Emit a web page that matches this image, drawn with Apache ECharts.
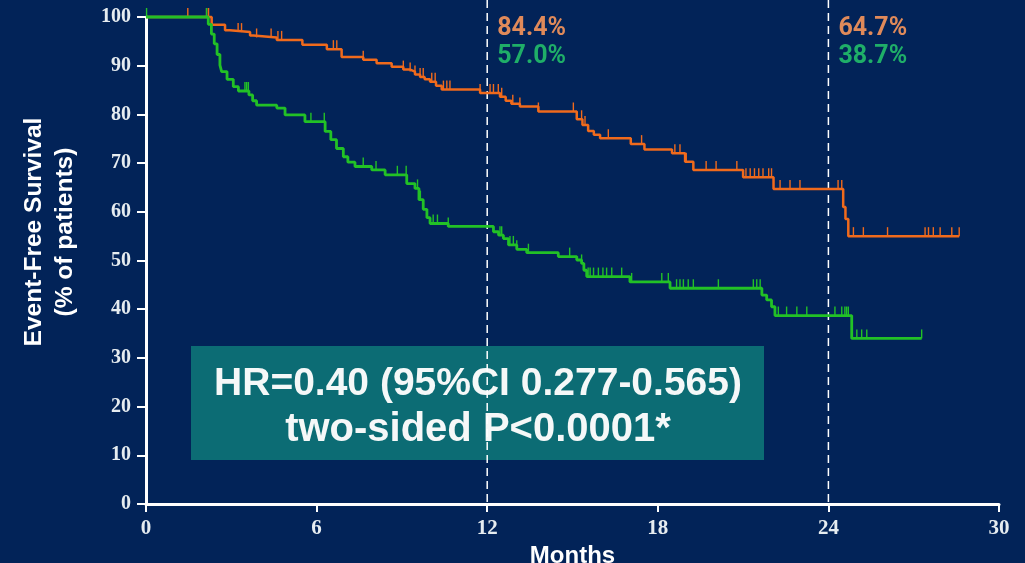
<!DOCTYPE html>
<html>
<head>
<meta charset="utf-8">
<script src="https://cdn.jsdelivr.net/npm/echarts@6/dist/echarts.min.js"></script>
<style>
html,body{margin:0;padding:0;background:#022358;}
#c{width:1025px;height:563px;}
</style>
</head>
<body>
<div id="c"></div>
<script>
// ---- data ----
const xTicks = [0, 6, 12, 18, 24, 30];
const yTicks = [0, 10, 20, 30, 40, 50, 60, 70, 80, 90, 100];

const orangeTimes = [0, 2.31, 2.78, 2.95, 3.66, 3.78, 4.6, 5.5, 6.36, 6.88, 7.64, 8.11, 8.64, 9.05, 9.29, 9.46, 9.64, 9.8, 9.99, 10.2, 10.4, 11.75, 12.45, 12.65, 12.85, 13.15, 13.8, 15.15, 15.35, 15.55, 15.75, 15.97, 17.05, 17.53, 18.5, 18.96, 19.25, 21.0, 22.07, 24.52, 24.6, 24.7, 28.6];
const orangeVals  = [100, 98.4, 97.3, 96.9, 96.2, 95.8, 95.3, 94.3, 93.4, 91.8, 91.2, 90.5, 89.8, 89.2, 88.8, 88.2, 87.7, 87.2, 86.7, 85.9, 85.1, 84.4, 83.6, 82.8, 82.2, 81.6, 80.6, 79.0, 77.8, 76.6, 75.8, 75.1, 73.9, 72.8, 72.0, 70.3, 68.6, 67.1, 64.7, 61.0, 58.5, 55.0, 55.0];
const orangeCensor = [1.47, 2.13, 2.2, 3.24, 3.36, 3.89, 4.4, 4.64, 4.77, 6.59, 6.71, 7.64, 9.05, 9.29, 9.46, 9.64, 9.75, 10.05, 10.17, 10.46, 10.58, 10.69, 11.75, 12.1, 12.22, 12.39, 12.51, 12.9, 13.15, 13.8, 15.03, 15.32, 15.44, 16.26, 17.43, 18.6, 18.78, 19.0, 19.7, 20.05, 20.78, 21.1, 21.25, 21.4, 21.55, 21.7, 21.9, 22.0, 22.3, 22.65, 23.0, 24.34, 24.47, 24.88, 25.23, 26.08, 27.4, 27.52, 27.69, 27.93, 28.34, 28.6];

const greenTimes = [0, 2.19, 2.3, 2.4, 2.5, 2.6, 2.66, 2.85, 3.07, 3.25, 3.62, 3.75, 3.89, 4.6, 4.89, 5.59, 6.3, 6.5, 6.7, 6.94, 7.1, 7.35, 7.94, 8.41, 9.17, 9.46, 9.6, 9.75, 9.88, 9.99, 10.63, 12.22, 12.4, 12.57, 12.75, 13.04, 13.39, 14.5, 15.15, 15.32, 15.4, 15.5, 17.02, 18.43, 21.66, 21.83, 22.0, 22.12, 24.82, 27.28];
const greenVals  = [100, 98.5, 96.5, 94.5, 92.3, 90.1, 88.8, 87.2, 85.7, 84.8, 84.0, 82.8, 81.9, 81.3, 79.9, 78.5, 76.5, 74.8, 73.0, 71.3, 70.2, 69.3, 68.6, 67.6, 65.8, 64.8, 62.5, 60.5, 58.8, 57.6, 57.0, 55.9, 55.2, 54.5, 53.2, 52.3, 51.6, 50.8, 50.1, 49.4, 48.0, 46.7, 45.6, 44.3, 42.9, 41.9, 40.5, 38.7, 34.0, 34.0];
const greenCensor = [0.02, 2.13, 3.48, 3.54, 3.6, 5.8, 6.27, 7.64, 8.09, 8.84, 9.15, 9.55, 9.65, 10.1, 10.25, 10.63, 12.45, 12.51, 12.8, 12.92, 13.04, 13.45, 14.9, 15.32, 15.55, 15.62, 15.74, 15.91, 16.07, 16.2, 16.38, 16.73, 17.08, 18.14, 18.37, 18.66, 18.78, 18.9, 19.07, 19.25, 20.13, 21.36, 21.48, 21.6, 22.24, 22.53, 22.89, 23.24, 24.23, 24.47, 24.58, 24.64, 24.7, 25.0, 25.17, 25.35, 27.28];

const milestoneMonths = [12, 24];
const milestoneOrange = ['84.4%', '64.7%'];
const milestoneGreen  = ['57.0%', '38.7%'];

const yTitle = 'Event-Free Survival\n(% of patients)';
const annotationLines = ['HR=0.40 (95%CI 0.277-0.565)', 'two-sided P<0.0001*'];

// ---- helpers ----
function pairs(ts, vs) { return ts.map((t, i) => [t, vs[i]]); }
function survAt(ts, vs, t) {
  let v = vs[0];
  for (let i = 0; i < ts.length; i++) { if (ts[i] <= t + 1e-9) v = vs[i]; }
  return v;
}
function censorData(c, ts, vs) { return c.map(t => [t, survAt(ts, vs, t)]); }

const ORANGE = '#f06a1c';
const GREEN = '#22c126';
const BG = '#022358';

function censorSeries(data, color, z) {
  return {
    type: 'custom', data: data, z: z, clip: false, silent: true,
    renderItem: function (params, api) {
      const p = api.coord([api.value(0), api.value(1)]);
      return { type: 'line', shape: { x1: p[0], y1: p[1], x2: p[0], y2: p[1] - 9 },
               style: { stroke: color, lineWidth: 1.4 } };
    }
  };
}

const chart = echarts.init(document.getElementById('c'), null, { renderer: 'canvas' });

const option = {
  backgroundColor: BG,
  animation: false,
  grid: { left: 146, right: 26, top: 17, bottom: 59, containLabel: false, outerBoundsMode: 'none' },
  xAxis: {
    type: 'value', min: 0, max: 30, interval: 6,
    name: 'Months', nameLocation: 'middle', nameGap: 37,
    nameTextStyle: { color: '#ffffff', fontFamily: 'Liberation Sans, Arial', fontWeight: 'bold', fontSize: 24 },
    axisLine: { show: true, lineStyle: { color: '#ffffff', width: 3 } },
    axisTick: { show: true, inside: false, length: 8, lineStyle: { color: '#ffffff', width: 2 } },
    axisLabel: { color: '#e6ecf0', fontFamily: 'Liberation Serif, Times New Roman', fontWeight: 'bold', fontSize: 21, margin: 14,
                 formatter: v => xTicks.indexOf(v) >= 0 ? String(v) : '' },
    splitLine: { show: false }
  },
  yAxis: {
    type: 'value', min: 0, max: 100, interval: 10,
    axisLine: { show: true, lineStyle: { color: '#ffffff', width: 3 } },
    axisTick: { show: true, inside: false, length: 9, lineStyle: { color: '#ffffff', width: 2 } },
    axisLabel: { color: '#e6ecf0', fontFamily: 'Liberation Serif, Times New Roman', fontWeight: 'bold', fontSize: 20, margin: 15,
                 formatter: v => yTicks.indexOf(v) >= 0 ? String(v) : '' },
    splitLine: { show: false }
  },
  series: [
    // dashed milestone lines + labels
    {
      type: 'custom', data: milestoneMonths.map((m, i) => [m, i]), z: 1, clip: false, silent: true,
      renderItem: function (params, api) {
        const m = api.value(0);
        const i = api.value(1);
        const p0 = api.coord([m, 0]);
        return {
          type: 'group',
          children: [
            { type: 'line', shape: { x1: p0[0], y1: p0[1] - 2, x2: p0[0], y2: 0 },
              style: { stroke: '#ffffff', lineWidth: 1.5, lineDash: [8, 5] } },
            { type: 'text', style: { text: milestoneOrange[i], x: p0[0] + 10, y: 29, fill: '#e08a5a',
                font: 'bold 25px Roboto, "Liberation Sans", Arial', textVerticalAlign: 'middle', textAlign: 'left' } },
            { type: 'text', style: { text: milestoneGreen[i], x: p0[0] + 10, y: 57, fill: '#1fae68',
                font: 'bold 25px Roboto, "Liberation Sans", Arial', textVerticalAlign: 'middle', textAlign: 'left' } }
          ]
        };
      }
    },
    { name: 'orange', type: 'line', step: 'end', data: pairs(orangeTimes, orangeVals), showSymbol: false, symbol: 'none',
      lineStyle: { color: ORANGE, width: 2.5 }, z: 3, clip: false },
    censorSeries(censorData(orangeCensor, orangeTimes, orangeVals), ORANGE, 3),
    { name: 'green', type: 'line', step: 'end', data: pairs(greenTimes, greenVals), showSymbol: false, symbol: 'none',
      lineStyle: { color: GREEN, width: 2.8 }, z: 4, clip: false },
    censorSeries(censorData(greenCensor, greenTimes, greenVals), GREEN, 4)
  ],
  graphic: [
    {
      type: 'text', x: 50, y: 232, rotation: Math.PI / 2, z: 10,
      style: { text: yTitle, fill: '#ffffff', textAlign: 'center', textVerticalAlign: 'middle',
               font: 'bold 24.5px "Liberation Sans", Arial', lineHeight: 31 }
    },
    {
      type: 'group', left: 191, top: 346, z: 10,
      children: [
        { type: 'rect', shape: { x: 0, y: 0, width: 573, height: 114 }, style: { fill: '#0c6c74' } },
        { type: 'text', style: { text: annotationLines[0], x: 287, y: 38, fill: '#f5f8f8', textAlign: 'center', textVerticalAlign: 'middle',
            font: 'bold 39px "Liberation Sans", Arial' } },
        { type: 'text', style: { text: annotationLines[1], x: 287, y: 84, fill: '#f5f8f8', textAlign: 'center', textVerticalAlign: 'middle',
            font: 'bold 40px "Liberation Sans", Arial' } }
      ]
    }
  ]
};
chart.setOption(option);
</script>
</body>
</html>
